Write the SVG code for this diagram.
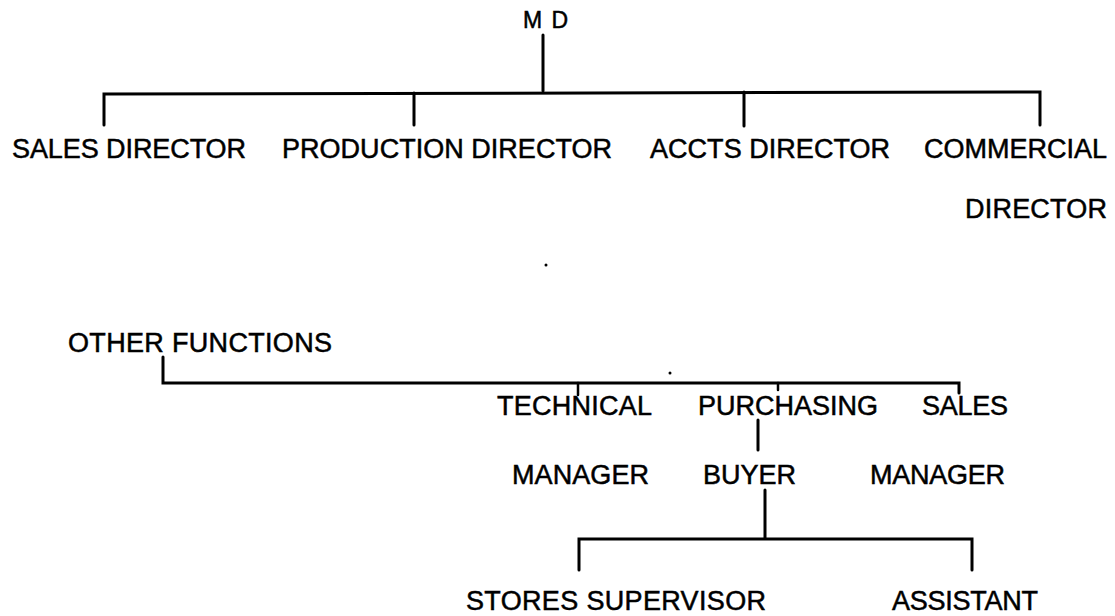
<svg xmlns="http://www.w3.org/2000/svg" width="1115" height="616" viewBox="0 0 1115 616">
<style>
text{font-family:"Liberation Sans",Arial,sans-serif;font-size:27px;fill:#000;stroke:#000;stroke-width:0.5}
.md{font-size:23px}
.ln{stroke:#000;stroke-width:3;fill:none;stroke-linecap:round;stroke-linejoin:miter}
.tk{stroke:#000;stroke-width:2.5;fill:none;stroke-linecap:round}
</style>
<rect width="1115" height="616" fill="#fff"/>
<g id="connectors">
<path class="ln" d="M543 35V91"/>
<path class="ln" d="M104 125V94L1040 92V125"/>
<path class="ln" d="M414 93V125"/>
<path class="ln" d="M744 92V126"/>
<path class="ln" d="M163 357V383H959V393"/>
<path class="tk" d="M578 383V395"/>
<path class="tk" d="M778 383V390"/>
<path class="ln" d="M758 420V450"/>
<path class="ln" d="M765 490V538"/>
<path class="ln" d="M579 570V539H972V570"/>
</g>
<g id="md"><text class="md" x="523" y="28" textLength="45">M D</text></g>
<g id="sales-director"><text x="12" y="158" textLength="234">SALES DIRECTOR</text></g>
<g id="production-director"><text x="282" y="158" textLength="330">PRODUCTION DIRECTOR</text></g>
<g id="accts-director"><text x="650" y="158" textLength="240">ACCTS DIRECTOR</text></g>
<g id="commercial-director"><text x="924" y="158" textLength="183">COMMERCIAL</text><text x="965" y="218" textLength="142">DIRECTOR</text></g>
<g id="other-functions"><text x="68" y="352" textLength="264">OTHER FUNCTIONS</text></g>
<g id="technical-manager"><text x="497" y="415" textLength="155">TECHNICAL</text><text x="512" y="484" textLength="137">MANAGER</text></g>
<g id="purchasing"><text x="698" y="415" textLength="180">PURCHASING</text></g>
<g id="buyer"><text x="703" y="484" textLength="93">BUYER</text></g>
<g id="sales-manager"><text x="922" y="415" textLength="86">SALES</text><text x="870" y="484" textLength="135">MANAGER</text></g>
<g id="stores-supervisor"><text x="466" y="610" textLength="300">STORES SUPERVISOR</text></g>
<g id="assistant"><text x="892" y="610" textLength="146">ASSISTANT</text></g>
<g id="specks"><circle cx="546" cy="265" r="1.5"/><circle cx="670" cy="373" r="1.5"/></g>
</svg>
